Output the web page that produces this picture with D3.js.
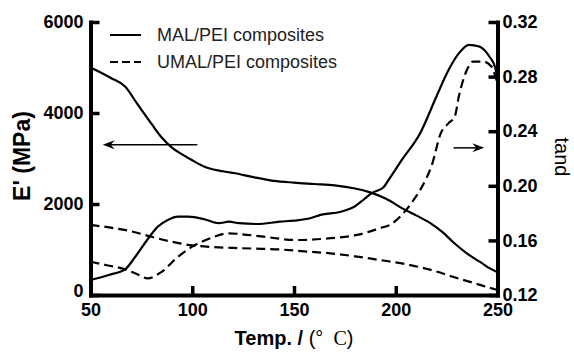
<!DOCTYPE html>
<html>
<head>
<meta charset="utf-8">
<script src="https://cdn.jsdelivr.net/npm/d3@7"></script>
<style>
  body { margin: 0; background: #fff; }
  svg { display: block; }
</style>
</head>
<body>
<svg id="chart" width="574" height="352"></svg>
<script>
// tick values
const xTicks = [50, 100, 150, 200, 250];
const modTicks = [0, 2000, 4000, 6000];
const tanTicks = [0.12, 0.16, 0.20, 0.24, 0.28, 0.32];

// storage modulus E' (MPa)
const malModT = [50, 60, 67, 73, 80, 85, 90, 95, 100, 106, 115, 121, 130, 140, 150, 160, 170, 180, 187, 195, 203, 210, 217, 223, 228, 236, 242, 246, 250];
const malMod = [5000, 4770, 4580, 4200, 3760, 3460, 3240, 3090, 2960, 2820, 2720, 2675, 2590, 2510, 2470, 2440, 2410, 2340, 2260, 2120, 1910, 1750, 1580, 1380, 1170, 880, 710, 590, 500];

const umalModT = [50, 60, 70, 80, 90, 100, 110, 120, 130, 143, 155, 168, 180, 192, 203, 212, 220, 228, 236, 243, 250];
const umalMod = [1540, 1480, 1400, 1280, 1170, 1090, 1055, 1035, 1020, 1000, 960, 915, 850, 770, 695, 610, 515, 400, 295, 200, 110];

// loss factor tan delta
const malTanT = [50, 59, 67, 72, 79, 83, 88, 93, 98, 106, 113, 118, 123, 132, 143, 150, 158, 163, 173, 180, 184, 188, 194, 197, 203, 212, 220, 226, 231, 236, 241, 246, 249, 250];
const malTan = [0.131, 0.1347, 0.1388, 0.148, 0.1627, 0.170, 0.175, 0.1774, 0.1774, 0.1755, 0.1726, 0.1737, 0.1726, 0.172, 0.1737, 0.1745, 0.1762, 0.1787, 0.181, 0.185, 0.1896, 0.1945, 0.199, 0.2055, 0.219, 0.2385, 0.2654, 0.285, 0.297, 0.3033, 0.302, 0.2947, 0.286, 0.278];

const umalTanT = [50, 58, 67, 73, 78, 85, 93, 100, 109, 118, 123, 135, 151, 168, 181, 187, 192, 197, 203, 208, 212, 218, 222, 226, 229, 231, 235, 238, 243, 247, 249, 250];
const umalTan = [0.1444, 0.1418, 0.1388, 0.1352, 0.1322, 0.137, 0.148, 0.1554, 0.1616, 0.1652, 0.1647, 0.1627, 0.1603, 0.1616, 0.164, 0.1664, 0.1689, 0.1713, 0.1787, 0.188, 0.197, 0.2165, 0.238, 0.2459, 0.2507, 0.2654, 0.285, 0.291, 0.291, 0.2874, 0.28, 0.275];

const legendLabels = ['MAL/PEI composites', 'UMAL/PEI composites'];

const svg = d3.select('#chart');
const font = "Arial, 'Liberation Sans', sans-serif";

const x = d3.scaleLinear().domain([50, 250]).range([90.5, 497.5]);
const yMod = d3.scaleLinear().domain([0, 6000]).range([295, 22]);
const yTan = d3.scaleLinear().domain([0.12, 0.32]).range([295, 22]);

const zip = (ts, vs) => ts.map((t, i) => [t, vs[i]]);

const lineMod = d3.line().x(d => x(d[0])).y(d => yMod(d[1])).curve(d3.curveMonotoneX);
const lineTan = d3.line().x(d => x(d[0])).y(d => yTan(d[1])).curve(d3.curveMonotoneX);

const curves = [
  { data: zip(malModT, malMod), line: lineMod, dash: null },
  { data: zip(umalModT, umalMod), line: lineMod, dash: '9,5' },
  { data: zip(malTanT, malTan), line: lineTan, dash: null },
  { data: zip(umalTanT, umalTan), line: lineTan, dash: '9,5' }
];

svg.append('g')
  .selectAll('path')
  .data(curves)
  .join('path')
  .attr('d', d => d.line(d.data))
  .attr('fill', 'none')
  .attr('stroke', '#000')
  .attr('stroke-width', 2.2)
  .attr('stroke-dasharray', d => d.dash);

// axes, ticks point inward
function styleAxis(g) {
  g.select('.domain').attr('stroke', '#000').attr('stroke-width', 4).attr('stroke-linecap', 'square');
  g.selectAll('.tick line').attr('stroke', '#000').attr('stroke-width', 3.5);
  g.selectAll('.tick text')
    .attr('fill', '#000')
    .style('font-family', font)
    .style('font-size', '18px')
    .style('font-weight', 'bold');
}

svg.append('g')
  .attr('transform', 'translate(0,295)')
  .call(d3.axisBottom(x).tickValues(xTicks).tickSizeInner(-9).tickSizeOuter(0).tickPadding(8).tickFormat(d3.format('d')))
  .call(styleAxis);

svg.append('g')
  .attr('transform', 'translate(90.5,0)')
  .call(d3.axisLeft(yMod).tickValues(modTicks).tickSizeInner(-9).tickSizeOuter(0).tickPadding(7).tickFormat(d3.format('d')))
  .call(styleAxis)
  .call(g => g.selectAll('.tick').filter(d => d === 0).select('text').attr('dy', '0.1em'));

svg.append('g')
  .attr('transform', 'translate(497.5,0)')
  .call(d3.axisRight(yTan).tickValues(tanTicks).tickSizeInner(-9).tickSizeOuter(0).tickPadding(5).tickFormat(d3.format('.2f')))
  .call(styleAxis);

// axis titles
svg.append('text')
  .attr('transform', 'translate(30,156) rotate(-90)')
  .attr('text-anchor', 'middle')
  .style('font-family', font)
  .style('font-size', '23px')
  .style('font-weight', 'bold')
  .text("E' (MPa)");

svg.append('text')
  .attr('transform', 'translate(555,157) rotate(90)')
  .attr('text-anchor', 'middle')
  .style('font-family', font)
  .style('font-size', '20px')
  .text('tand');

const xTitle = svg.append('text')
  .attr('x', 294)
  .attr('y', 345)
  .attr('text-anchor', 'middle')
  .style('font-family', font)
  .style('font-size', '20px');
xTitle.append('tspan').style('font-weight', 'bold').text('Temp. / ');
xTitle.append('tspan').text('(°\u2002');
xTitle.append('tspan').style('font-family', "'Liberation Serif', 'DejaVu Serif', serif").text('C');
xTitle.append('tspan').text(')');

// legend
const legend = svg.append('g').selectAll('g')
  .data(legendLabels)
  .join('g')
  .attr('transform', (d, i) => `translate(110,${35 + i * 27})`);

legend.append('line')
  .attr('x1', 0).attr('x2', 31)
  .attr('stroke', '#000')
  .attr('stroke-width', 2)
  .attr('stroke-dasharray', (d, i) => i ? '8,4' : null);

legend.append('text')
  .attr('x', 47)
  .attr('dy', '0.35em')
  .attr('fill', '#222')
  .style('font-family', font)
  .style('font-size', '18px')
  .text(d => d);

// arrows pointing to the matching axis
function arrow(x1, x2, y) {
  const dir = x2 > x1 ? 1 : -1;
  svg.append('line')
    .attr('x1', x1).attr('x2', x2 - dir * 4).attr('y1', y).attr('y2', y)
    .attr('stroke', '#000').attr('stroke-width', 1.5);
  svg.append('path')
    .attr('d', `M${x2},${y} L${x2 - dir * 12},${y - 4.5} L${x2 - dir * 8},${y} L${x2 - dir * 12},${y + 4.5} Z`)
    .attr('fill', '#000');
}
arrow(x(102.5), x(56), yMod(3300));
arrow(x(228.4), x(243.5), yTan(0.2278));
</script>
</body>
</html>
